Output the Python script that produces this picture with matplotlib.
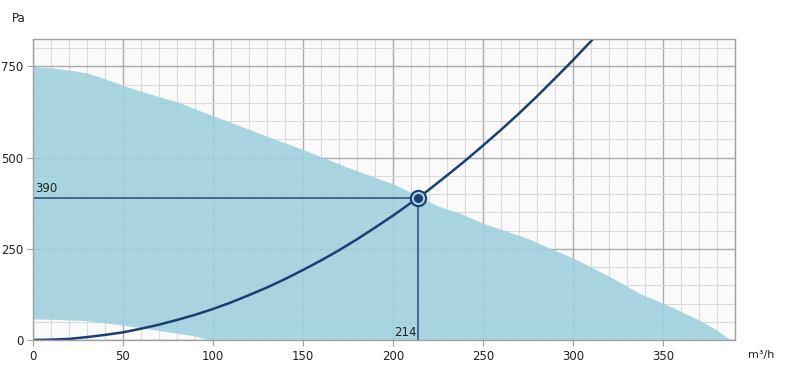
import numpy as np
import matplotlib.pyplot as plt
from matplotlib.ticker import MultipleLocator

# fan working area (upper boundary) - airflow m3/h vs pressure Pa
area_x = [0, 10, 20, 30, 40, 50, 60, 70, 80, 93, 100, 125, 150, 175, 200, 214, 225, 237,
          250, 265, 275, 287, 300, 320, 337, 355, 370, 380, 385, 388]
area_top = [750, 746, 740, 732, 716, 698, 682, 667, 653, 628, 615, 568, 522, 473, 428, 395,
            367, 348, 320, 295, 278, 252, 225, 175, 128, 90, 55, 27, 9, 0]
# lower boundary of the working area
low_x = [0, 15, 30, 50, 70, 90, 98]
low_y = [58, 56, 53, 41, 26, 11, 0]

# system curve
sys_x = [0, 10, 20, 30, 40, 50, 60, 70, 80, 90, 100, 110, 120, 130, 140, 150, 160, 170,
         180, 190, 200, 210, 214, 220, 230, 240, 250, 260, 270, 280, 290, 300, 310, 312]
sys_y = [0, 1, 3, 8, 14, 21, 31, 42, 55, 69, 85, 103, 123, 144, 167, 192, 218, 246,
         276, 308, 341, 376, 390, 412, 451, 491, 533, 576, 621, 668, 717, 767, 819, 829]

op_x, op_y = 214, 390

fig = plt.figure(figsize=(7.87, 3.77), dpi=100)
ax = fig.add_axes([33/787, 1 - 340/377, (735 - 33)/787, (340 - 39)/377])
ax.set_facecolor('#fafafa')

ax.set_xlim(0, 390)
ax.set_ylim(0, 825)
ax.xaxis.set_major_locator(MultipleLocator(50))
ax.xaxis.set_minor_locator(MultipleLocator(10))
ax.yaxis.set_major_locator(MultipleLocator(250))
ax.yaxis.set_minor_locator(MultipleLocator(50))
ax.set_axisbelow(True)
ax.grid(which='minor', color='#dadada', lw=0.8)
ax.grid(which='major', color='#ababab', lw=1.0)

# fill between top curve and lower curve (lower is 0 beyond its end)
xx = np.array(sorted(set(area_x) | set(low_x)), dtype=float)
top = np.interp(xx, area_x, area_top)
bot = np.interp(xx, low_x, low_y, right=0)
ax.fill_between(xx, bot, top, color='#a0d1df', alpha=0.9, lw=0, zorder=1)

for s in ax.spines.values():
    s.set_color('#a0a0a0')
    s.set_linewidth(1.0)
    s.set_zorder(8)

ax.tick_params(which='major', length=4, color='#a0a0a0', labelsize=8.5,
               labelcolor='#222222', pad=3)
ax.tick_params(which='minor', length=0)

ax.plot(sys_x, sys_y, color='#1b3f73', lw=1.8, zorder=4)

# operating point guides
ax.plot([0, op_x], [op_y, op_y], color='#3f6a8e', lw=1.4, zorder=3)
ax.plot([op_x, op_x], [0, op_y], color='#3f6a8e', lw=1.4, zorder=3)
ax.plot(op_x, op_y, 'o', ms=11, mfc='#a9d5e2', mec='#1b3f73', mew=1.5, zorder=5)
ax.plot(op_x, op_y, 'o', ms=5.5, color='#1b3f73', zorder=6)

ax.text(1, op_y + 8, str(op_y), fontsize=8.5, color='#222222', ha='left', va='bottom', zorder=7)
ax.text(op_x - 1, 3, str(op_x), fontsize=8.5, color='#222222', ha='right', va='bottom', zorder=7)

fig.text(12/787, 1 - 18/377, 'Pa', fontsize=8.5, color='#222222', ha='left', va='center')
fig.text(748/787, 1 - 355/377, 'm³/h', fontsize=8, color='#222222', ha='left', va='center')

fig.savefig('out.png', dpi=100)
